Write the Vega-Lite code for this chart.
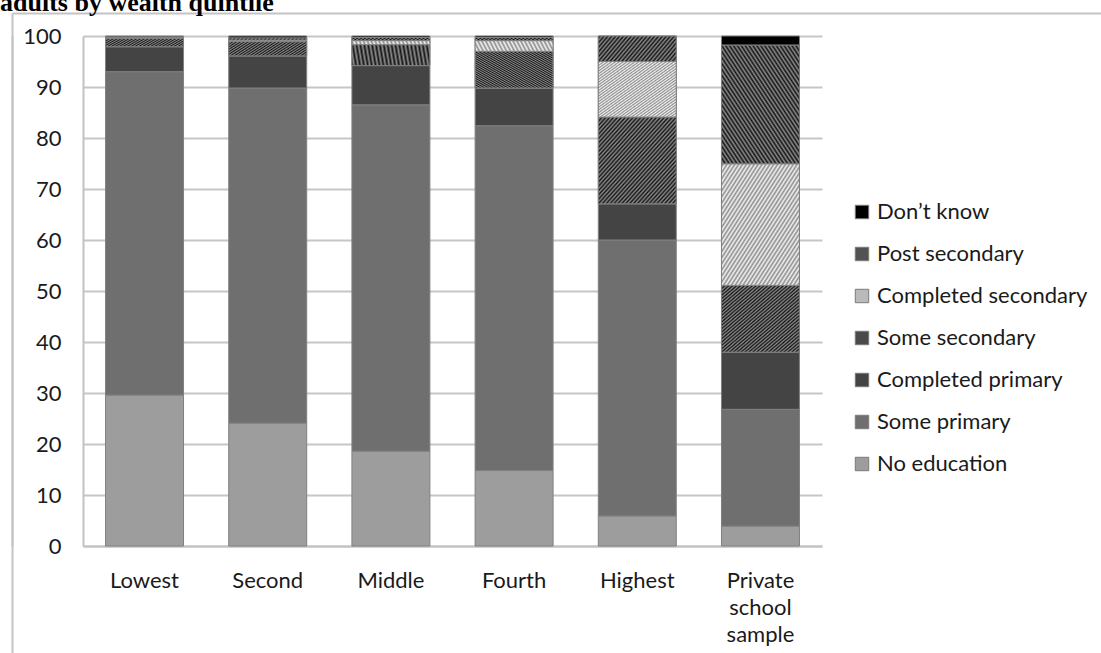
{
  "$schema": "https://vega.github.io/schema/vega-lite/v6.json",
  "width": 739,
  "height": 510,
  "autosize": {"type": "none"},
  "padding": {"left": 83, "top": 36, "right": 279, "bottom": 107},
  "background": "white",
  "title": {"text": "adults by wealth quintile", "font": "Liberation Serif", "fontSize": 26, "fontWeight": "bold", "color": "#000000", "anchor": "start", "frame": "group", "dx": -83, "offset": -4},
  "config": {
    "view": {"stroke": null},
    "axis": {"labelFont": "Lato", "labelFontSize": 22, "labelColor": "#1a1a1a", "domainColor": "#c2c2c2", "domainWidth": 2, "gridColor": "#c6c6c6", "gridWidth": 2, "ticks": false, "title": null},
    "legend": {"labelFont": "Lato", "labelFontSize": 22, "labelColor": "#1a1a1a", "labelLimit": 400}
  },
  "resolve": {"axis": {"x": "independent", "y": "independent"}},
  "data": {"values": [
    {"group": "Lowest", "edu": "No education", "rank": 1, "value": 29.6},
    {"group": "Lowest", "edu": "Some primary", "rank": 2, "value": 63.4},
    {"group": "Lowest", "edu": "Completed primary", "rank": 3, "value": 4.9},
    {"group": "Lowest", "edu": "Some secondary", "rank": 4, "value": 1.6},
    {"group": "Lowest", "edu": "Completed secondary", "rank": 5, "value": 0.2},
    {"group": "Lowest", "edu": "Post secondary", "rank": 6, "value": 0.1},
    {"group": "Lowest", "edu": "Don’t know", "rank": 7, "value": 0.2},
    {"group": "Second", "edu": "No education", "rank": 1, "value": 24.1},
    {"group": "Second", "edu": "Some primary", "rank": 2, "value": 65.7},
    {"group": "Second", "edu": "Completed primary", "rank": 3, "value": 6.3},
    {"group": "Second", "edu": "Some secondary", "rank": 4, "value": 2.8},
    {"group": "Second", "edu": "Completed secondary", "rank": 5, "value": 0.3},
    {"group": "Second", "edu": "Post secondary", "rank": 6, "value": 0.4},
    {"group": "Second", "edu": "Don’t know", "rank": 7, "value": 0.4},
    {"group": "Middle", "edu": "No education", "rank": 1, "value": 18.6},
    {"group": "Middle", "edu": "Some primary", "rank": 2, "value": 67.9},
    {"group": "Middle", "edu": "Completed primary", "rank": 3, "value": 7.7},
    {"group": "Middle", "edu": "Some secondary", "rank": 4, "value": 4.1},
    {"group": "Middle", "edu": "Completed secondary", "rank": 5, "value": 0.8},
    {"group": "Middle", "edu": "Post secondary", "rank": 6, "value": 0.6},
    {"group": "Middle", "edu": "Don’t know", "rank": 7, "value": 0.3},
    {"group": "Fourth", "edu": "No education", "rank": 1, "value": 14.8},
    {"group": "Fourth", "edu": "Some primary", "rank": 2, "value": 67.6},
    {"group": "Fourth", "edu": "Completed primary", "rank": 3, "value": 7.4},
    {"group": "Fourth", "edu": "Some secondary", "rank": 4, "value": 7.2},
    {"group": "Fourth", "edu": "Completed secondary", "rank": 5, "value": 2.1},
    {"group": "Fourth", "edu": "Post secondary", "rank": 6, "value": 0.6},
    {"group": "Fourth", "edu": "Don’t know", "rank": 7, "value": 0.3},
    {"group": "Highest", "edu": "No education", "rank": 1, "value": 5.9},
    {"group": "Highest", "edu": "Some primary", "rank": 2, "value": 54.1},
    {"group": "Highest", "edu": "Completed primary", "rank": 3, "value": 7.1},
    {"group": "Highest", "edu": "Some secondary", "rank": 4, "value": 17.0},
    {"group": "Highest", "edu": "Completed secondary", "rank": 5, "value": 10.9},
    {"group": "Highest", "edu": "Post secondary", "rank": 6, "value": 5.0},
    {"group": "Private school sample", "edu": "No education", "rank": 1, "value": 3.9},
    {"group": "Private school sample", "edu": "Some primary", "rank": 2, "value": 22.9},
    {"group": "Private school sample", "edu": "Completed primary", "rank": 3, "value": 11.2},
    {"group": "Private school sample", "edu": "Some secondary", "rank": 4, "value": 13.1},
    {"group": "Private school sample", "edu": "Completed secondary", "rank": 5, "value": 23.85},
    {"group": "Private school sample", "edu": "Post secondary", "rank": 6, "value": 23.25},
    {"group": "Private school sample", "edu": "Don’t know", "rank": 7, "value": 1.8}
  ]},
  "transform": [
    {"stack": "value", "groupby": ["group"], "sort": [{"field": "rank", "order": "ascending"}], "as": ["y0", "y1"]}
  ],
  "encoding": {
    "x": {"field": "group", "type": "nominal", "sort": ["Lowest", "Second", "Middle", "Fourth", "Highest", "Private school sample"],
      "scale": {"paddingInner": 0.367, "paddingOuter": 0.183}, "axis": null},
    "y": {"field": "y0", "type": "quantitative", "scale": {"domain": [0, 100], "nice": false}, "axis": null},
    "y2": {"field": "y1"}
  },
  "layer": [
    {
      "mark": {"type": "bar", "stroke": "#808080", "strokeWidth": 1},
      "encoding": {
        "x": {"field": "group", "type": "nominal", "sort": ["Lowest", "Second", "Middle", "Fourth", "Highest", "Private school sample"],
          "scale": {"paddingInner": 0.367, "paddingOuter": 0.183},
          "axis": {"orient": "bottom", "labelAngle": 0, "labelPadding": 24, "labelBaseline": "top", "labelLineHeight": 27, "labelExpr": "split(datum.label, ' ')", "grid": false}},
        "y": {"field": "y0", "type": "quantitative", "scale": {"domain": [0, 100], "nice": false},
          "axis": {"orient": "left", "values": [0, 10, 20, 30, 40, 50, 60, 70, 80, 90, 100], "labelPadding": 22, "grid": true}},
        "color": {"field": "edu", "type": "nominal",
          "scale": {"domain": ["Don’t know", "Post secondary", "Completed secondary", "Some secondary", "Completed primary", "Some primary", "No education"],
                    "range": ["#000000", "#525252", "#bababa", "#4a4a4a", "#444444", "#6f6f6f", "#9d9d9d"]},
          "legend": {"title": null, "orient": "none", "legendX": 768, "legendY": 165, "padding": 0, "symbolType": "square", "symbolSize": 180, "symbolStrokeColor": "#7a7a7a", "symbolStrokeWidth": 1, "labelOffset": 4, "rowPadding": 20}}
      }
    },
    {
      "transform": [{"filter": "datum.edu === 'Some secondary'"}],
      "mark": {"type": "bar", "stroke": "#808080", "strokeWidth": 1, "fill": {"gradient": "linear", "x1": 0, "y1": 0, "x2": 1, "y2": 1, "stops": [{"offset":0,"color":"#141414"},{"offset":0.0125,"color":"#8c8c8c"},{"offset":0.025,"color":"#141414"},{"offset":0.0375,"color":"#8c8c8c"},{"offset":0.05,"color":"#141414"},{"offset":0.0625,"color":"#8c8c8c"},{"offset":0.075,"color":"#141414"},{"offset":0.0875,"color":"#8c8c8c"},{"offset":0.1,"color":"#141414"},{"offset":0.1125,"color":"#8c8c8c"},{"offset":0.125,"color":"#141414"},{"offset":0.1375,"color":"#8c8c8c"},{"offset":0.15,"color":"#141414"},{"offset":0.1625,"color":"#8c8c8c"},{"offset":0.175,"color":"#141414"},{"offset":0.1875,"color":"#8c8c8c"},{"offset":0.2,"color":"#141414"},{"offset":0.2125,"color":"#8c8c8c"},{"offset":0.225,"color":"#141414"},{"offset":0.2375,"color":"#8c8c8c"},{"offset":0.25,"color":"#141414"},{"offset":0.2625,"color":"#8c8c8c"},{"offset":0.275,"color":"#141414"},{"offset":0.2875,"color":"#8c8c8c"},{"offset":0.3,"color":"#141414"},{"offset":0.3125,"color":"#8c8c8c"},{"offset":0.325,"color":"#141414"},{"offset":0.3375,"color":"#8c8c8c"},{"offset":0.35,"color":"#141414"},{"offset":0.3625,"color":"#8c8c8c"},{"offset":0.375,"color":"#141414"},{"offset":0.3875,"color":"#8c8c8c"},{"offset":0.4,"color":"#141414"},{"offset":0.4125,"color":"#8c8c8c"},{"offset":0.425,"color":"#141414"},{"offset":0.4375,"color":"#8c8c8c"},{"offset":0.45,"color":"#141414"},{"offset":0.4625,"color":"#8c8c8c"},{"offset":0.475,"color":"#141414"},{"offset":0.4875,"color":"#8c8c8c"},{"offset":0.5,"color":"#141414"},{"offset":0.5125,"color":"#8c8c8c"},{"offset":0.525,"color":"#141414"},{"offset":0.5375,"color":"#8c8c8c"},{"offset":0.55,"color":"#141414"},{"offset":0.5625,"color":"#8c8c8c"},{"offset":0.575,"color":"#141414"},{"offset":0.5875,"color":"#8c8c8c"},{"offset":0.6,"color":"#141414"},{"offset":0.6125,"color":"#8c8c8c"},{"offset":0.625,"color":"#141414"},{"offset":0.6375,"color":"#8c8c8c"},{"offset":0.65,"color":"#141414"},{"offset":0.6625,"color":"#8c8c8c"},{"offset":0.675,"color":"#141414"},{"offset":0.6875,"color":"#8c8c8c"},{"offset":0.7,"color":"#141414"},{"offset":0.7125,"color":"#8c8c8c"},{"offset":0.725,"color":"#141414"},{"offset":0.7375,"color":"#8c8c8c"},{"offset":0.75,"color":"#141414"},{"offset":0.7625,"color":"#8c8c8c"},{"offset":0.775,"color":"#141414"},{"offset":0.7875,"color":"#8c8c8c"},{"offset":0.8,"color":"#141414"},{"offset":0.8125,"color":"#8c8c8c"},{"offset":0.825,"color":"#141414"},{"offset":0.8375,"color":"#8c8c8c"},{"offset":0.85,"color":"#141414"},{"offset":0.8625,"color":"#8c8c8c"},{"offset":0.875,"color":"#141414"},{"offset":0.8875,"color":"#8c8c8c"},{"offset":0.9,"color":"#141414"},{"offset":0.9125,"color":"#8c8c8c"},{"offset":0.925,"color":"#141414"},{"offset":0.9375,"color":"#8c8c8c"},{"offset":0.95,"color":"#141414"},{"offset":0.9625,"color":"#8c8c8c"},{"offset":0.975,"color":"#141414"},{"offset":0.9875,"color":"#8c8c8c"},{"offset":1,"color":"#141414"}]}}
    },
    {
      "transform": [{"filter": "datum.edu === 'Completed secondary'"}],
      "mark": {"type": "bar", "stroke": "#808080", "strokeWidth": 1, "fill": {"gradient": "linear", "x1": 0, "y1": 0, "x2": 1, "y2": 1, "stops": [{"offset":0,"color":"#f4f4f4"},{"offset":0.0125,"color":"#8c8c8c"},{"offset":0.025,"color":"#f4f4f4"},{"offset":0.0375,"color":"#8c8c8c"},{"offset":0.05,"color":"#f4f4f4"},{"offset":0.0625,"color":"#8c8c8c"},{"offset":0.075,"color":"#f4f4f4"},{"offset":0.0875,"color":"#8c8c8c"},{"offset":0.1,"color":"#f4f4f4"},{"offset":0.1125,"color":"#8c8c8c"},{"offset":0.125,"color":"#f4f4f4"},{"offset":0.1375,"color":"#8c8c8c"},{"offset":0.15,"color":"#f4f4f4"},{"offset":0.1625,"color":"#8c8c8c"},{"offset":0.175,"color":"#f4f4f4"},{"offset":0.1875,"color":"#8c8c8c"},{"offset":0.2,"color":"#f4f4f4"},{"offset":0.2125,"color":"#8c8c8c"},{"offset":0.225,"color":"#f4f4f4"},{"offset":0.2375,"color":"#8c8c8c"},{"offset":0.25,"color":"#f4f4f4"},{"offset":0.2625,"color":"#8c8c8c"},{"offset":0.275,"color":"#f4f4f4"},{"offset":0.2875,"color":"#8c8c8c"},{"offset":0.3,"color":"#f4f4f4"},{"offset":0.3125,"color":"#8c8c8c"},{"offset":0.325,"color":"#f4f4f4"},{"offset":0.3375,"color":"#8c8c8c"},{"offset":0.35,"color":"#f4f4f4"},{"offset":0.3625,"color":"#8c8c8c"},{"offset":0.375,"color":"#f4f4f4"},{"offset":0.3875,"color":"#8c8c8c"},{"offset":0.4,"color":"#f4f4f4"},{"offset":0.4125,"color":"#8c8c8c"},{"offset":0.425,"color":"#f4f4f4"},{"offset":0.4375,"color":"#8c8c8c"},{"offset":0.45,"color":"#f4f4f4"},{"offset":0.4625,"color":"#8c8c8c"},{"offset":0.475,"color":"#f4f4f4"},{"offset":0.4875,"color":"#8c8c8c"},{"offset":0.5,"color":"#f4f4f4"},{"offset":0.5125,"color":"#8c8c8c"},{"offset":0.525,"color":"#f4f4f4"},{"offset":0.5375,"color":"#8c8c8c"},{"offset":0.55,"color":"#f4f4f4"},{"offset":0.5625,"color":"#8c8c8c"},{"offset":0.575,"color":"#f4f4f4"},{"offset":0.5875,"color":"#8c8c8c"},{"offset":0.6,"color":"#f4f4f4"},{"offset":0.6125,"color":"#8c8c8c"},{"offset":0.625,"color":"#f4f4f4"},{"offset":0.6375,"color":"#8c8c8c"},{"offset":0.65,"color":"#f4f4f4"},{"offset":0.6625,"color":"#8c8c8c"},{"offset":0.675,"color":"#f4f4f4"},{"offset":0.6875,"color":"#8c8c8c"},{"offset":0.7,"color":"#f4f4f4"},{"offset":0.7125,"color":"#8c8c8c"},{"offset":0.725,"color":"#f4f4f4"},{"offset":0.7375,"color":"#8c8c8c"},{"offset":0.75,"color":"#f4f4f4"},{"offset":0.7625,"color":"#8c8c8c"},{"offset":0.775,"color":"#f4f4f4"},{"offset":0.7875,"color":"#8c8c8c"},{"offset":0.8,"color":"#f4f4f4"},{"offset":0.8125,"color":"#8c8c8c"},{"offset":0.825,"color":"#f4f4f4"},{"offset":0.8375,"color":"#8c8c8c"},{"offset":0.85,"color":"#f4f4f4"},{"offset":0.8625,"color":"#8c8c8c"},{"offset":0.875,"color":"#f4f4f4"},{"offset":0.8875,"color":"#8c8c8c"},{"offset":0.9,"color":"#f4f4f4"},{"offset":0.9125,"color":"#8c8c8c"},{"offset":0.925,"color":"#f4f4f4"},{"offset":0.9375,"color":"#8c8c8c"},{"offset":0.95,"color":"#f4f4f4"},{"offset":0.9625,"color":"#8c8c8c"},{"offset":0.975,"color":"#f4f4f4"},{"offset":0.9875,"color":"#8c8c8c"},{"offset":1,"color":"#f4f4f4"}]}},
      "encoding": {
        "x": {"field": "group", "type": "nominal", "sort": ["Lowest", "Second", "Middle", "Fourth", "Highest", "Private school sample"],
          "scale": {"paddingInner": 0.367, "paddingOuter": 0.183},
          "axis": {"orient": "top", "offset": 23, "values": ["Lowest"], "bandPosition": 0, "tickOffset": -93.5, "ticks": true, "tickSize": -640, "tickColor": "#c4c4c4", "tickWidth": 2, "labels": false, "domain": false, "grid": false}}
      }
    },
    {
      "transform": [{"filter": "datum.edu === 'Post secondary'"}],
      "mark": {"type": "bar", "stroke": "#808080", "strokeWidth": 1, "fill": {"gradient": "linear", "x1": 0, "y1": 1, "x2": 1, "y2": 0, "stops": [{"offset":0,"color":"#141414"},{"offset":0.0125,"color":"#8c8c8c"},{"offset":0.025,"color":"#141414"},{"offset":0.0375,"color":"#8c8c8c"},{"offset":0.05,"color":"#141414"},{"offset":0.0625,"color":"#8c8c8c"},{"offset":0.075,"color":"#141414"},{"offset":0.0875,"color":"#8c8c8c"},{"offset":0.1,"color":"#141414"},{"offset":0.1125,"color":"#8c8c8c"},{"offset":0.125,"color":"#141414"},{"offset":0.1375,"color":"#8c8c8c"},{"offset":0.15,"color":"#141414"},{"offset":0.1625,"color":"#8c8c8c"},{"offset":0.175,"color":"#141414"},{"offset":0.1875,"color":"#8c8c8c"},{"offset":0.2,"color":"#141414"},{"offset":0.2125,"color":"#8c8c8c"},{"offset":0.225,"color":"#141414"},{"offset":0.2375,"color":"#8c8c8c"},{"offset":0.25,"color":"#141414"},{"offset":0.2625,"color":"#8c8c8c"},{"offset":0.275,"color":"#141414"},{"offset":0.2875,"color":"#8c8c8c"},{"offset":0.3,"color":"#141414"},{"offset":0.3125,"color":"#8c8c8c"},{"offset":0.325,"color":"#141414"},{"offset":0.3375,"color":"#8c8c8c"},{"offset":0.35,"color":"#141414"},{"offset":0.3625,"color":"#8c8c8c"},{"offset":0.375,"color":"#141414"},{"offset":0.3875,"color":"#8c8c8c"},{"offset":0.4,"color":"#141414"},{"offset":0.4125,"color":"#8c8c8c"},{"offset":0.425,"color":"#141414"},{"offset":0.4375,"color":"#8c8c8c"},{"offset":0.45,"color":"#141414"},{"offset":0.4625,"color":"#8c8c8c"},{"offset":0.475,"color":"#141414"},{"offset":0.4875,"color":"#8c8c8c"},{"offset":0.5,"color":"#141414"},{"offset":0.5125,"color":"#8c8c8c"},{"offset":0.525,"color":"#141414"},{"offset":0.5375,"color":"#8c8c8c"},{"offset":0.55,"color":"#141414"},{"offset":0.5625,"color":"#8c8c8c"},{"offset":0.575,"color":"#141414"},{"offset":0.5875,"color":"#8c8c8c"},{"offset":0.6,"color":"#141414"},{"offset":0.6125,"color":"#8c8c8c"},{"offset":0.625,"color":"#141414"},{"offset":0.6375,"color":"#8c8c8c"},{"offset":0.65,"color":"#141414"},{"offset":0.6625,"color":"#8c8c8c"},{"offset":0.675,"color":"#141414"},{"offset":0.6875,"color":"#8c8c8c"},{"offset":0.7,"color":"#141414"},{"offset":0.7125,"color":"#8c8c8c"},{"offset":0.725,"color":"#141414"},{"offset":0.7375,"color":"#8c8c8c"},{"offset":0.75,"color":"#141414"},{"offset":0.7625,"color":"#8c8c8c"},{"offset":0.775,"color":"#141414"},{"offset":0.7875,"color":"#8c8c8c"},{"offset":0.8,"color":"#141414"},{"offset":0.8125,"color":"#8c8c8c"},{"offset":0.825,"color":"#141414"},{"offset":0.8375,"color":"#8c8c8c"},{"offset":0.85,"color":"#141414"},{"offset":0.8625,"color":"#8c8c8c"},{"offset":0.875,"color":"#141414"},{"offset":0.8875,"color":"#8c8c8c"},{"offset":0.9,"color":"#141414"},{"offset":0.9125,"color":"#8c8c8c"},{"offset":0.925,"color":"#141414"},{"offset":0.9375,"color":"#8c8c8c"},{"offset":0.95,"color":"#141414"},{"offset":0.9625,"color":"#8c8c8c"},{"offset":0.975,"color":"#141414"},{"offset":0.9875,"color":"#8c8c8c"},{"offset":1,"color":"#141414"}]}},
      "encoding": {
        "y": {"field": "y0", "type": "quantitative", "scale": {"domain": [0, 100], "nice": false},
          "axis": {"orient": "left", "offset": 71, "values": [100], "tickOffset": -23, "ticks": true, "tickSize": -1100, "tickColor": "#c4c4c4", "tickWidth": 2, "labels": false, "domain": true, "domainColor": "#c4c4c4", "domainWidth": 2, "grid": false}}
      }
    }
  ]
}
